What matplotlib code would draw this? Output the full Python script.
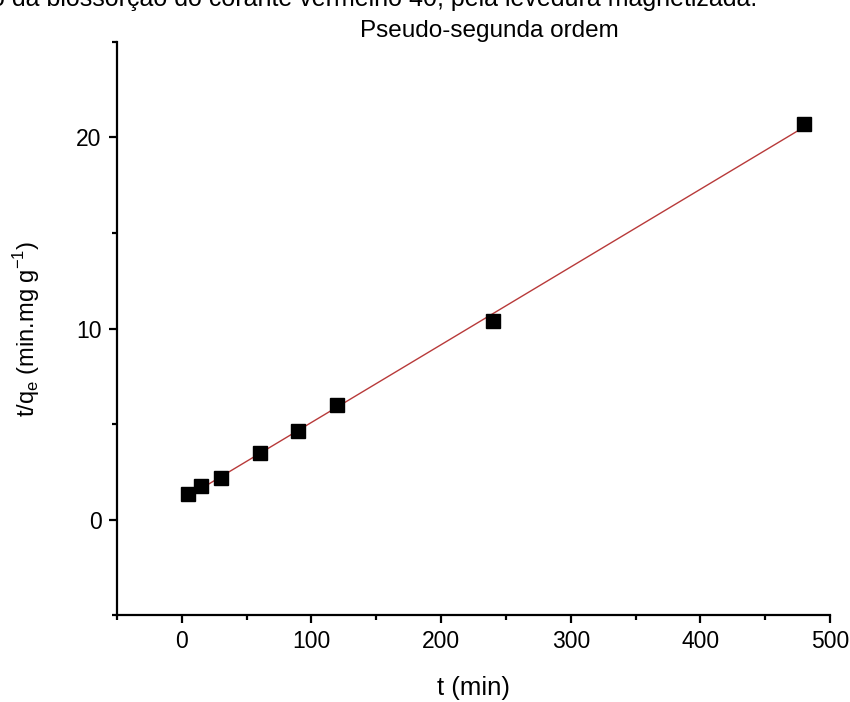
import matplotlib
matplotlib.use("Agg")
import matplotlib.pyplot as plt
from matplotlib.ticker import MultipleLocator
import numpy as np

plt.rcParams['font.family'] = ['Liberation Sans', 'DejaVu Sans']

# dados
t = [5, 15, 30, 60, 90, 120, 240, 480]
t_qe = [1.36, 1.73, 2.15, 3.46, 4.62, 5.98, 10.39, 20.73]

# ajuste linear (pseudo-segunda ordem)
a, b = np.polyfit(t, t_qe, 1)
t_fit = np.array([t[0], t[-1]])

fig = plt.figure(figsize=(8.5, 7.02), dpi=100)
ax = fig.add_axes([0.1376, 0.1239, 0.8389, 0.8163])

ax.plot(t_fit, a * t_fit + b, color='#b83a3a', lw=1)
ax.plot(t, t_qe, 's', color='black', markersize=10.5)

ax.set_xlim(-50, 500)
ax.set_ylim(-5, 25)
ax.xaxis.set_major_locator(MultipleLocator(100))
ax.xaxis.set_minor_locator(MultipleLocator(50))
ax.yaxis.set_major_locator(MultipleLocator(10))
ax.yaxis.set_minor_locator(MultipleLocator(5))

for s in ['top', 'right']:
    ax.spines[s].set_visible(False)
for s in ['left', 'bottom']:
    ax.spines[s].set_linewidth(1.6)
ax.tick_params(which='major', direction='out', length=6, width=1.6, labelsize=16.5, pad=5)
ax.tick_params(which='minor', direction='out', length=3.5, width=1.6)

ax.set_xlabel('t (min)', fontsize=18.5, labelpad=16)
ax.set_ylabel('t/q$_\\mathregular{e}$ (min.mg g$^\\mathregular{-1}$)', fontsize=17)
ax.yaxis.set_label_coords(-0.105, 0.5)
ax.set_title('Pseudo-segunda ordem', fontsize=17.5, pad=3, x=0.522)

fig.text(757 / 850, 1 - 6 / 702, 'o da biossorção do corante vermelho 40, pela levedura magnetizada.',
         ha='right', va='baseline', fontsize=18)

plt.savefig('out.png', dpi=100)
